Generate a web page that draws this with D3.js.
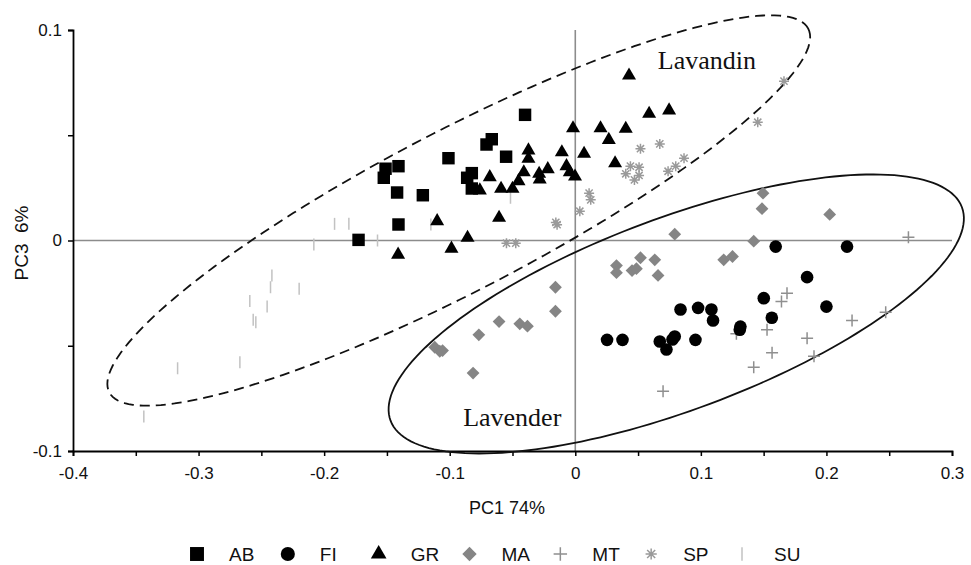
<!DOCTYPE html>
<html><head><meta charset="utf-8">
<script src="https://cdn.jsdelivr.net/npm/d3@7"></script>
<style>body{margin:0;background:#fff}svg{display:block}</style>
</head><body>
<script>
const xTicks = [-0.4,-0.3,-0.2,-0.1,0,0.1,0.2,0.3];
const yTicks = [-0.1,0,0.1];
const groups = ["AB","FI","GR","MA","MT","SP","SU"];

const AB = [[-0.0400,0.0597],[-0.0665,0.0481],[-0.0707,0.0456],[-0.1010,0.0391],[-0.0551,0.0398],[-0.1511,0.0341],[-0.1408,0.0353],[-0.1525,0.0298],[-0.0824,0.0320],[-0.0861,0.0298],[-0.0824,0.0247],[-0.1419,0.0228],[-0.1214,0.0215],[-0.1408,0.0076],[-0.1726,0.0003]];
const FI = [[0.1596,-0.0029],[0.2164,-0.0029],[0.1846,-0.0174],[0.1501,-0.0274],[0.2000,-0.0314],[0.0838,-0.0328],[0.0978,-0.0320],[0.1084,-0.0328],[0.1097,-0.0380],[0.1315,-0.0409],[0.1310,-0.0424],[0.1565,-0.0367],[0.0253,-0.0472],[0.0376,-0.0472],[0.0673,-0.0480],[0.0726,-0.0518],[0.0774,-0.0470],[0.0792,-0.0456],[0.0957,-0.0472]];
const GR = [[0.0428,0.0784],[-0.0018,0.0533],[0.0201,0.0533],[0.0402,0.0531],[0.0588,0.0602],[0.0747,0.0618],[0.0267,0.0478],[0.0317,0.0367],[-0.0373,0.0428],[-0.0373,0.0388],[-0.0107,0.0419],[0.0070,0.0412],[-0.0681,0.0301],[-0.0410,0.0324],[-0.0452,0.0282],[-0.0288,0.0317],[-0.0283,0.0290],[-0.0219,0.0339],[-0.0070,0.0353],[-0.0044,0.0324],[-0.0002,0.0304],[-0.0760,0.0238],[-0.0591,0.0246],[-0.0500,0.0246],[-0.0607,0.0108],[-0.1100,0.0092],[-0.0858,0.0013],[-0.0986,-0.0039],[-0.1411,-0.0067]];
const MA = [[0.1495,0.0225],[0.1487,0.0151],[0.2026,0.0124],[0.0792,0.0030],[0.1421,-0.0003],[0.0328,-0.0119],[0.0328,-0.0153],[0.0519,-0.0082],[0.0633,-0.0092],[0.0452,-0.0143],[0.0487,-0.0134],[0.0659,-0.0166],[0.1182,-0.0092],[0.1252,-0.0076],[-0.0158,-0.0222],[-0.0158,-0.0336],[-0.0607,-0.0385],[-0.0442,-0.0396],[-0.0381,-0.0407],[-0.0768,-0.0448],[-0.1119,-0.0507],[-0.1079,-0.0526],[-0.1057,-0.0523],[-0.0814,-0.0630]];
const MT = [[0.2653,0.0016],[0.1686,-0.0250],[0.1642,-0.0290],[0.2472,-0.0341],[0.2204,-0.0380],[0.1527,-0.0424],[0.1283,-0.0443],[0.1846,-0.0464],[0.1567,-0.0533],[0.1901,-0.0550],[0.1421,-0.0602],[0.0699,-0.0716]];
const SP = [[0.1662,0.0757],[0.1453,0.0562],[0.0519,0.0436],[0.0673,0.0459],[0.0439,0.0353],[0.0508,0.0348],[0.0402,0.0317],[0.0471,0.0288],[0.0508,0.0309],[0.0739,0.0329],[0.0800,0.0353],[0.0866,0.0391],[0.0110,0.0225],[0.0123,0.0193],[0.0036,0.0139],[-0.0145,0.0075],[-0.0155,0.0086],[-0.0548,-0.0013],[-0.0474,-0.0013]];
const SU = [[-0.1917,0.0079],[-0.1803,0.0079],[-0.1575,0.0000],[-0.2082,-0.0019],[-0.1150,0.0076],[-0.0516,0.0203],[-0.2416,-0.0166],[-0.2427,-0.0222],[-0.2199,-0.0229],[-0.2592,-0.0288],[-0.2454,-0.0314],[-0.2565,-0.0377],[-0.2544,-0.0388],[-0.2671,-0.0578],[-0.3167,-0.0607],[-0.3436,-0.0836]];

// group ellipses: centre + two conjugate half-axis vectors (data units)
const ellLavandin = {c:[-0.0928,0.01425], u:[0.2783,0.0864], v:[0.0294,-0.0337], label:"Lavandin", at:[0.0657,0.0817]};
const ellLavender = {c:[0.0804,-0.0349], u:[0.2275,0.0507], v:[0.0268,-0.0427], label:"Lavender", at:[-0.0893,-0.0881]};

const W=971,H=565;
const svg=d3.select("body").append("svg").attr("width",W).attr("height",H);
const x=d3.scaleLinear().domain([-0.4,0.3]).range([73,952]);
const y=d3.scaleLinear().domain([-0.1,0.1]).range([451,30]);
const font="Liberation Sans, Arial, sans-serif";

// zero lines
svg.append("line").attr("x1",x(-0.4)).attr("x2",x(0.3)).attr("y1",y(0)).attr("y2",y(0)).attr("stroke","#8c8c8c").attr("stroke-width",1.6);
svg.append("line").attr("x1",x(0)).attr("x2",x(0)).attr("y1",y(0.1)).attr("y2",y(-0.1)).attr("stroke","#8c8c8c").attr("stroke-width",1.6);

// axes
const lab=d=>{const r=Math.round(d*100)/100; return (Math.abs(Math.round(r*10)-r*10)<1e-6)? String(Math.round(r*10)/10):"";};
const xAxis=d3.axisBottom(x).tickValues(d3.range(-0.4,0.3001,0.05)).tickSize(5).tickFormat(lab);
const gx=svg.append("g").attr("transform",`translate(0,${y(-0.1)})`).call(xAxis);
const yAxis=d3.axisLeft(y).tickValues(d3.range(-0.1,0.1001,0.05)).tickSize(5).tickFormat(lab);
const gy=svg.append("g").attr("transform",`translate(${x(-0.4)},0)`).call(yAxis);
[gx,gy].forEach(g=>{
  g.select(".domain").attr("stroke","#000").attr("stroke-width",1.8);
  g.selectAll(".tick line").attr("stroke","#000").attr("stroke-width",1.5);
  g.selectAll("text").attr("font-family",font).attr("font-size",17).attr("fill","#111");
});
gx.selectAll("text").attr("y",28).attr("dy",0);
gy.selectAll("text").attr("x",-11);

// axis titles
svg.append("text").attr("x",507).attr("y",514).attr("text-anchor","middle").attr("font-family",font).attr("font-size",18).attr("fill","#111").text("PC1 74%");
svg.append("text").attr("transform","translate(28,243) rotate(-90)").attr("text-anchor","middle").attr("font-family",font).attr("font-size",19).attr("fill","#111").attr("xml:space","preserve").style("white-space","pre").text("PC3  6%");

// ellipses
function ellPath(e){
  const pts=d3.range(0,361,2).map(t=>{const a=t*Math.PI/180;return [x(e.c[0]+e.u[0]*Math.cos(a)+e.v[0]*Math.sin(a)), y(e.c[1]+e.u[1]*Math.cos(a)+e.v[1]*Math.sin(a))];});
  return d3.line().curve(d3.curveLinearClosed)(pts);
}
svg.append("path").attr("d",ellPath(ellLavandin)).attr("fill","none").attr("stroke","#111").attr("stroke-width",1.8).attr("stroke-dasharray","10,6");
svg.append("path").attr("d",ellPath(ellLavender)).attr("fill","none").attr("stroke","#111").attr("stroke-width",1.8);
[ellLavandin,ellLavender].forEach(e=>{
  svg.append("text").attr("x",x(e.at[0])).attr("y",y(e.at[1])).attr("font-family","Liberation Serif, Times New Roman, serif").attr("font-size",26).attr("fill","#111").text(e.label);
});

// marker drawers (scale factor k)
const markers={
  AB:(g,k)=>g.append("path").attr("d",d3.symbol(d3.symbolSquare,155*k*k)()).attr("fill","#000"),
  FI:(g,k)=>g.append("path").attr("d",d3.symbol(d3.symbolCircle,125*k*k)()).attr("fill","#000"),
  GR:(g,k)=>g.append("path").attr("d",d3.symbol(d3.symbolTriangle,85*k*k)()).attr("fill","#000"),
  MA:(g,k)=>g.append("path").attr("d",d3.symbol(d3.symbolSquare,82*k*k)()).attr("transform","rotate(45)").attr("fill","#858585"),
  MT:(g,k)=>g.append("path").attr("d",`M${-6*k},0H${6*k}M0,${-6*k}V${6*k}`).attr("stroke","#8f8f8f").attr("stroke-width",1.5).attr("fill","none"),
  SP:(g,k)=>g.append("path").attr("d",`M${-5*k},0H${5*k}M0,${-5*k}V${5*k}M${-3.6*k},${-3.6*k}L${3.6*k},${3.6*k}M${-3.6*k},${3.6*k}L${3.6*k},${-3.6*k}`).attr("stroke","#9a9a9a").attr("stroke-width",1.5).attr("fill","none"),
  SU:(g,k)=>g.append("path").attr("d",`M0,${-6*k}V${6*k}`).attr("stroke","#c2c2c2").attr("stroke-width",1.5).attr("fill","none")
};
const dataBy={AB,FI,GR,MA,MT,SP,SU};
["SU","SP","MT","MA","FI","AB","GR"].forEach(kk=>{
  const sel=svg.append("g").selectAll("g").data(dataBy[kk]).join("g").attr("transform",d=>`translate(${x(d[0])},${y(d[1])})`);
  sel.each(function(){markers[kk](d3.select(this),1);});
});

// legend
const legX=d3.scalePoint().domain(groups).range([197,742]);
const leg=svg.append("g").selectAll("g").data(groups).join("g").attr("transform",d=>`translate(${legX(d)},554)`);
leg.each(function(k){markers[k](d3.select(this),1.12);});
leg.append("text").attr("x",32).attr("y",7).attr("font-family",font).attr("font-size",19).attr("fill","#111").text(d=>d);
</script>
</body></html>
